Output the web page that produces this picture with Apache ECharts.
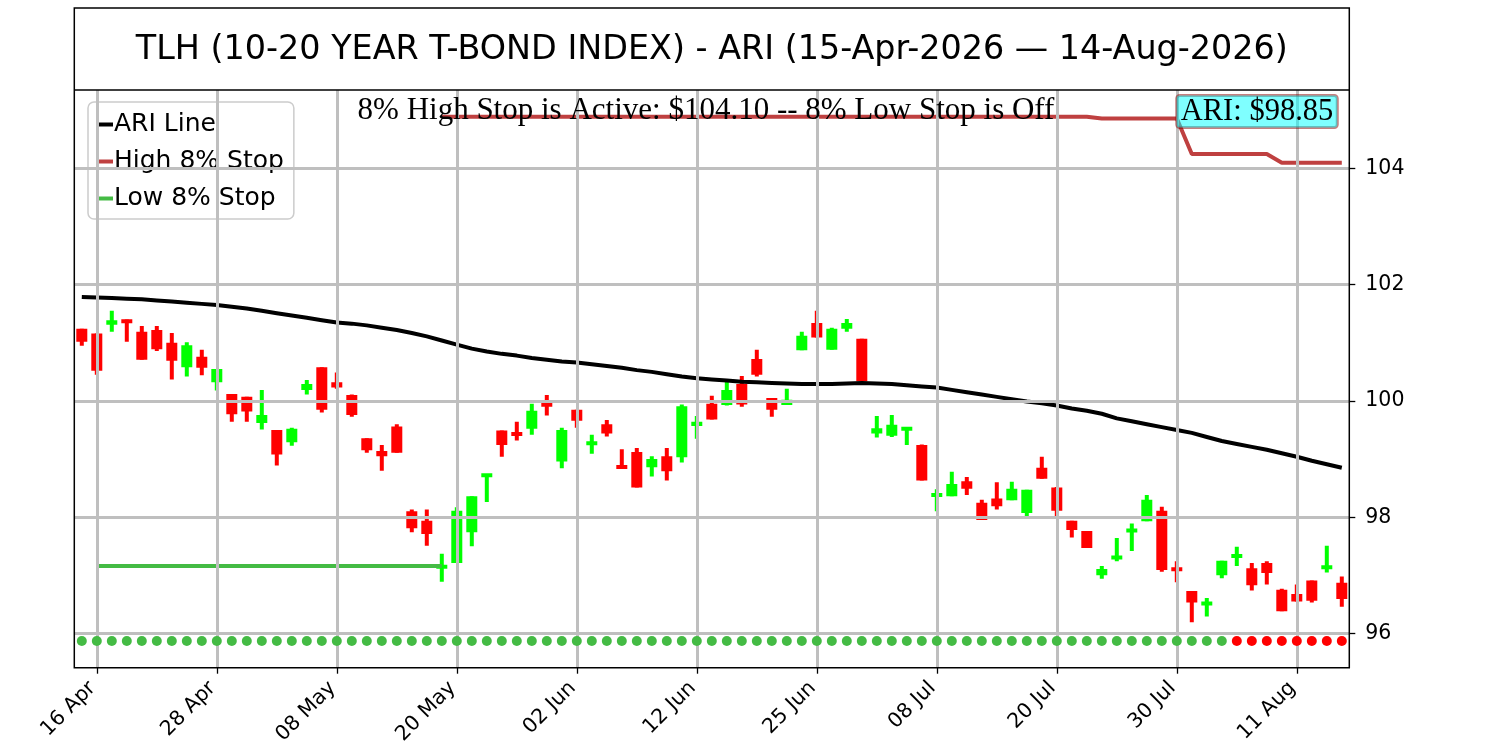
<!DOCTYPE html>
<html>
<head>
<meta charset="utf-8">
<script src="https://cdn.jsdelivr.net/npm/echarts@6/dist/echarts.min.js"></script>
<style>html,body{margin:0;padding:0;background:#fff;}#c{width:1500px;height:750px;}</style>
</head>
<body>
<div id="c"></div>
<script>
const dates = ['15 Apr','16 Apr','17 Apr','20 Apr','21 Apr','22 Apr','23 Apr','24 Apr','27 Apr','28 Apr',
'29 Apr','30 Apr','01 May','04 May','05 May','06 May','07 May','08 May','11 May','12 May',
'13 May','14 May','15 May','18 May','19 May','20 May','21 May','22 May','26 May','27 May',
'28 May','29 May','01 Jun','02 Jun','03 Jun','04 Jun','05 Jun','08 Jun','09 Jun','10 Jun',
'11 Jun','12 Jun','15 Jun','16 Jun','17 Jun','18 Jun','22 Jun','23 Jun','24 Jun','25 Jun',
'26 Jun','29 Jun','30 Jun','01 Jul','02 Jul','06 Jul','07 Jul','08 Jul','09 Jul','10 Jul',
'13 Jul','14 Jul','15 Jul','16 Jul','17 Jul','20 Jul','21 Jul','22 Jul','23 Jul','24 Jul',
'27 Jul','28 Jul','29 Jul','30 Jul','31 Jul','03 Aug','04 Aug','05 Aug','06 Aug','07 Aug',
'10 Aug','11 Aug','12 Aug','13 Aug','14 Aug'];
const xTickLabels = ['16 Apr','28 Apr','08 May','20 May','02 Jun','12 Jun','25 Jun','08 Jul','20 Jul','30 Jul','11 Aug'];
const yTicks = [96, 98, 100, 102, 104];

const opens = [101.24,101.16,101.31,101.40,101.19,101.22,101.00,100.58,100.76,100.32,
100.12,100.07,99.62,99.50,99.29,100.19,100.58,100.32,100.10,99.36,
99.14,99.56,98.10,97.94,97.13,97.21,97.74,98.71,99.49,99.46,
99.52,99.97,98.96,99.85,99.24,99.60,98.89,99.12,98.86,99.05,
99.03,99.57,99.95,99.93,100.29,100.72,100.05,99.93,100.87,101.34,
100.88,101.24,101.07,99.44,99.40,99.50,99.24,98.36,98.36,98.62,
98.25,98.32,98.29,98.07,98.85,98.51,97.94,97.76,97.00,97.28,
97.74,97.93,98.11,97.13,96.73,96.49,97.00,97.30,97.12,97.21,
96.75,96.68,96.91,97.12,96.87];
const closes = [101.02,100.52,101.39,101.34,100.71,100.89,100.69,100.96,100.57,100.55,
99.77,99.82,99.76,99.08,99.52,100.29,99.85,100.23,99.76,99.15,
99.05,99.11,97.81,97.71,97.16,98.11,98.36,98.73,99.24,99.40,
99.83,99.90,99.50,99.66,99.30,99.44,98.84,98.51,99.00,98.79,
99.91,99.64,99.68,100.19,99.94,100.45,99.85,100.02,101.12,101.09,
101.24,101.34,100.34,99.53,99.59,99.54,98.63,98.40,98.57,98.49,
97.95,98.19,98.49,98.47,98.66,98.11,97.78,97.47,97.11,97.33,
97.80,98.30,97.09,97.08,96.53,96.54,97.25,97.36,96.83,97.04,
96.38,96.55,96.56,97.16,96.59];
const lows = [100.95,100.45,101.19,101.02,100.71,100.86,100.37,100.42,100.44,100.18,
99.64,99.64,99.51,98.89,99.23,100.11,99.80,100.21,99.73,99.11,
98.80,99.11,97.74,97.51,96.89,97.21,97.50,98.26,99.04,99.32,
99.42,99.75,98.84,99.54,99.09,99.39,98.84,98.51,98.70,98.63,
98.94,99.35,99.68,99.92,99.90,100.42,99.73,99.93,100.87,101.09,
100.88,101.19,100.34,99.37,99.38,99.24,98.63,98.10,98.36,98.38,
97.95,98.13,98.29,98.01,98.66,97.99,97.65,97.47,96.94,97.24,
97.42,97.93,97.06,96.88,96.19,96.29,96.95,97.16,96.74,96.84,
96.38,96.55,96.53,97.05,96.46];
const highs = [101.24,101.16,101.55,101.40,101.29,101.29,101.17,101.01,100.88,100.55,
100.12,100.07,100.19,99.50,99.54,100.36,100.58,100.49,100.11,99.36,
99.24,99.60,98.13,98.13,97.37,98.17,98.36,98.74,99.49,99.64,
99.95,100.10,99.54,99.85,99.42,99.67,99.17,99.19,99.05,99.19,
99.94,99.74,100.09,100.34,100.43,100.88,100.05,100.21,101.19,101.55,
101.26,101.41,101.07,99.74,99.76,99.55,99.25,98.48,98.78,98.69,
98.30,98.60,98.61,98.47,99.04,98.52,97.94,97.76,97.16,97.64,
97.89,98.38,98.18,97.24,96.73,96.61,97.25,97.49,97.21,97.24,
96.77,96.84,96.91,97.51,96.98];

const ariLine = [101.79,101.78,101.77,101.76,101.75,101.73,101.71,101.69,101.67,101.65,
101.62,101.59,101.55,101.51,101.47,101.43,101.39,101.35,101.33,101.30,
101.26,101.22,101.17,101.11,101.04,100.97,100.90,100.85,100.81,100.78,
100.74,100.71,100.68,100.66,100.63,100.60,100.57,100.53,100.50,100.46,
100.42,100.39,100.37,100.35,100.33,100.32,100.31,100.30,100.29,100.29,
100.29,100.30,100.31,100.30,100.29,100.27,100.25,100.23,100.19,100.15,
100.11,100.07,100.03,99.99,99.96,99.92,99.87,99.83,99.78,99.70,
99.65,99.60,99.55,99.50,99.45,99.38,99.31,99.26,99.21,99.16,
99.10,99.04,98.97,98.91,98.85];

const highStop = [null,null,null,null,null,null,null,null,null,null,
null,null,null,null,null,null,null,null,null,null,
null,null,null,null,104.89,104.89,104.89,104.89,104.89,104.89,
104.89,104.89,104.89,104.89,104.89,104.89,104.89,104.89,104.89,104.89,
104.89,104.89,104.89,104.89,104.89,104.89,104.89,104.89,104.89,104.89,
104.89,104.89,104.89,104.89,104.89,104.89,104.89,104.89,104.89,104.89,
104.89,104.89,104.89,104.89,104.89,104.89,104.89,104.89,104.86,104.86,
104.86,104.86,104.86,104.86,104.25,104.25,104.25,104.25,104.25,104.25,
104.10,104.10,104.10,104.10,104.10];

const lowStop = [null,97.16,97.16,97.16,97.16,97.16,97.16,97.16,97.16,97.16,
97.16,97.16,97.16,97.16,97.16,97.16,97.16,97.16,97.16,97.16,
97.16,97.16,97.16,97.16,97.16,null,null,null,null,null,
null,null,null,null,null,null,null,null,null,null,
null,null,null,null,null,null,null,null,null,null,
null,null,null,null,null,null,null,null,null,null,
null,null,null,null,null,null,null,null,null,null,
null,null,null,null,null,null,null,null,null,null,
null,null,null,null,null];

const dotLevel = 95.87;
const dotStatus = ['g','g','g','g','g','g','g','g','g','g',
'g','g','g','g','g','g','g','g','g','g',
'g','g','g','g','g','g','g','g','g','g',
'g','g','g','g','g','g','g','g','g','g',
'g','g','g','g','g','g','g','g','g','g',
'g','g','g','g','g','g','g','g','g','g',
'g','g','g','g','g','g','g','g','g','g',
'g','g','g','g','g','g','g','r','r','r',
'r','r','r','r','r'];

const titleText = 'TLH (10-20 YEAR T-BOND INDEX) - ARI (15-Apr-2026 \u2014 14-Aug-2026)';
const noteText = '8% High Stop is Active: $104.10 -- 8% Low Stop is Off';
const ariText = 'ARI: $98.85';

const GL = 74.3, GR = 1349.3, GT = 90, GB = 667.7, TT = 8;

const candleData = dates.map((d, i) => [i, opens[i], closes[i], lows[i], highs[i]]);
const dotData = dates.map((d, i) => [i, dotLevel]);

const chart = echarts.init(document.getElementById('c'));
const isTick = (idx, val) => xTickLabels.indexOf(val) >= 0;

chart.setOption({
  animation: false,
  backgroundColor: '#fff',
  grid: { left: GL, right: 1500 - GR, top: GT, bottom: 750 - GB, containLabel: false },
  legend: {
    orient: 'vertical', left: 88, top: 102,
    data: [
      { name: 'ARI Line', icon: 'rect' },
      { name: 'High 8% Stop', icon: 'rect' },
      { name: 'Low 8% Stop', icon: 'rect' }
    ],
    itemWidth: 17, itemHeight: 4, itemGap: 12,
    padding: [10, 10, 8, 8],
    backgroundColor: 'rgba(255,255,255,0.8)',
    borderColor: '#cccccc', borderWidth: 1.5, borderRadius: 6,
    textStyle: { fontFamily: 'DejaVu Sans', fontSize: 25, color: '#000', padding: [0, 0, 0, -4] },
    selectedMode: false
  },
  xAxis: {
    type: 'category', data: dates, boundaryGap: true,
    axisLine: { show: false },
    axisTick: { show: true, alignWithLabel: true, interval: isTick, length: 6, lineStyle: { color: '#000', width: 1.3 } },
    axisLabel: {
      interval: isTick, rotate: 45, fontSize: 20.5, fontFamily: 'DejaVu Sans', color: '#000', margin: 13,
      formatter: v => '{t|' + v + '}',
      rich: { t: { fontSize: 20.5, fontFamily: 'DejaVu Sans', color: '#000', padding: [0, 6, 0, 0] } }
    },
    splitLine: { show: false }
  },
  yAxis: {
    type: 'value', position: 'right', min: 95.41, max: 105.35, scale: true,
    axisLine: { show: false },
    axisTick: { show: true, customValues: yTicks, length: 6, lineStyle: { color: '#000', width: 1.3 } },
    axisLabel: {
      customValues: yTicks, fontSize: 20.5, fontFamily: 'DejaVu Sans', color: '#000', margin: 16,
      formatter: v => '{t|' + v + '}',
      rich: { t: { fontSize: 20.5, fontFamily: 'DejaVu Sans', color: '#000' } }
    },
    splitLine: { show: false }
  },
  series: [
    {
      name: 'grid', type: 'line', data: [], z: 1, silent: true,
      markLine: {
        silent: true, symbol: ['none', 'none'], label: { show: false },
        lineStyle: { color: '#bfbfbf', width: 3, type: 'solid' },
        emphasis: { disabled: true },
        data: xTickLabels.map(d => ({ xAxis: d })).concat(yTicks.map(v => ({ yAxis: v })))
      }
    },
    {
      name: 'candles', type: 'custom', z: 3, clip: true,
      data: candleData,
      encode: { x: 0, y: [1, 2, 3, 4] },
      renderItem: function (params, api) {
        const i = api.value(0), o = api.value(1), c = api.value(2), l = api.value(3), h = api.value(4);
        const pH = api.coord([i, h]), pL = api.coord([i, l]);
        const pO = api.coord([i, o]), pC = api.coord([i, c]);
        const color = c >= o ? '#00ff00' : '#ff0000';
        const x = pH[0];
        const top = Math.min(pO[1], pC[1]), bot = Math.max(pO[1], pC[1]);
        const bh = Math.max(bot - top, 4);
        const by = (bot - top) < 4 ? (top + bot) / 2 - 2 : top;
        return {
          type: 'group',
          children: [
            { type: 'rect', shape: { x: x - 2, y: pH[1], width: 4, height: pL[1] - pH[1] }, style: { fill: color } },
            { type: 'rect', shape: { x: x - 5.5, y: by, width: 11, height: bh }, style: { fill: color } }
          ]
        };
      }
    },
    {
      name: 'ARI Line', type: 'line', data: ariLine, z: 4, color: '#000000',
      showSymbol: false, symbol: 'none', lineStyle: { color: '#000', width: 4 }
    },
    {
      name: 'High 8% Stop', type: 'line', data: highStop, z: 4, color: '#bf4040',
      showSymbol: false, symbol: 'none', connectNulls: false, lineStyle: { color: '#bf4040', width: 4 }
    },
    {
      name: 'Low 8% Stop', type: 'line', data: lowStop, z: 4, color: '#44bb44',
      showSymbol: false, symbol: 'none', connectNulls: false, lineStyle: { color: '#44bb44', width: 4 }
    },
    {
      name: 'dots', type: 'scatter', data: dotData, z: 5, symbolSize: 10,
      itemStyle: { opacity: 1, color: p => dotStatus[p.dataIndex] === 'r' ? '#ff0000' : '#44bb44' }
    }
  ],
  graphic: [
    { type: 'rect', z: 100, silent: true, shape: { x: GL, y: TT, width: GR - GL, height: GB - TT },
      style: { fill: 'none', stroke: '#000', lineWidth: 1.5 } },
    { type: 'line', z: 100, silent: true, shape: { x1: GL, y1: GT, x2: GR, y2: GT },
      style: { stroke: '#000', lineWidth: 1.5 } },
    { type: 'text', z: 100, silent: true, x: (GL + GR) / 2, y: (TT + GT) / 2 + 1,
      style: { text: titleText, fontFamily: 'DejaVu Sans', fontSize: 33.4, fill: '#000', textAlign: 'center', textVerticalAlign: 'middle' } },
    { type: 'text', z: 100, silent: true, x: 706, y: 111,
      style: { text: noteText, fontFamily: 'Liberation Serif', fontSize: 31, fill: '#000', textAlign: 'center', textVerticalAlign: 'middle' } },
    { type: 'text', z: 100, silent: true, x: 1257, y: 111.5,
      style: { text: ariText, fontFamily: 'Liberation Serif', fontSize: 30.5, fill: '#000', textAlign: 'center', textVerticalAlign: 'middle',
        backgroundColor: 'rgba(0,255,255,0.5)', borderColor: 'rgba(139,0,0,0.5)', borderWidth: 1.5, borderRadius: 3, padding: [1, 4, 0, 4] } }
  ]
});
</script>
</body>
</html>
